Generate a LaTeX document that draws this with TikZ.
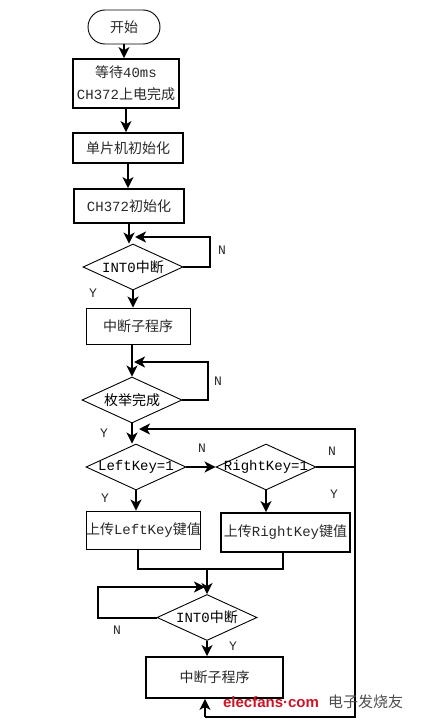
\documentclass[tikz,border=0pt]{standalone}
\usepackage{fontspec}
\setmainfont{Liberation Mono}
\newfontfamily\cjk{Noto Sans CJK SC}
\newfontfamily\wmfont{Liberation Sans}
\usetikzlibrary{shapes.geometric,arrows.meta}
\definecolor{wmred}{RGB}{200,22,40}
\definecolor{txt}{RGB}{40,40,40}

\begin{document}
\begin{tikzpicture}[x=1pt, y=-1pt, >={Stealth[length=11pt,width=11pt,inset=3pt]}, font=\fontsize{14}{22}\selectfont,
    proc/.style={draw, line width=1.8pt, inner sep=0pt, text=txt, align=center},
    thinproc/.style={proc, line width=0.9pt},
    decision/.style={diamond, draw, line width=0.9pt, inner sep=0pt, minimum width=100pt, minimum height=46pt},
    flow/.style={->, line width=2pt},
    yn/.style={text=txt, font=\fontsize{13}{13}\selectfont}]
\useasboundingbox (0,0) rectangle (422,728);

\node[draw, line width=0.9pt, rounded corners=17pt, minimum width=72pt, minimum height=34pt, text=txt] (start) at (124,27) {\cjk 开始};
\node[proc, minimum width=106pt, minimum height=49pt] (wait) at (126,83.5) {{\cjk 等待}40ms\\CH372{\cjk 上电完成}};
\node[proc, minimum width=110pt, minimum height=30pt] (mcuinit) at (128,148) {\cjk 单片机初始化};
\node[proc, minimum width=110pt, minimum height=34pt] (chinit) at (129,206) {CH372{\cjk 初始化}};
\node[decision, label={center:INT0{\cjk 中断}}] (int1) at (133,267) {};
\node[thinproc, minimum width=104pt, minimum height=36pt] (isr1) at (138,326) {\cjk 中断子程序};
\node[decision, label={center:{\cjk 枚举完成}}] (enum) at (132,400) {};
\node[decision, label={center:LeftKey=1}] (left) at (136,467) {};
\node[decision, label={center:RightKey=1}] (right) at (266,467) {};
\node[thinproc, minimum width=113pt, minimum height=38pt] (upleft) at (143.5,530) {{\cjk 上传}LeftKey{\cjk 键值}};
\node[proc, minimum width=129pt, minimum height=39pt] (upright) at (285.5,532.5) {{\cjk 上传}RightKey{\cjk 键值}};
\node[decision, label={center:INT0{\cjk 中断}}] (int2) at (207,617.5) {};
\node[proc, minimum width=137pt, minimum height=41pt] (isr2) at (214.5,677.5) {\cjk 中断子程序};

% main line
\draw[flow] (start.south) -- (start.south |- wait.north);
\draw[flow] (wait.south) -- (wait.south |- mcuinit.north);
\draw[flow] (mcuinit.south) -- (mcuinit.south |- chinit.north);
\draw[flow] (chinit.south) -- (chinit.south |- int1.north);
\draw[flow] (int1.south) -- (int1.south |- isr1.north);
\draw[flow] (isr1.south -| enum.north) -- (enum.north);
\draw[flow] (enum.south) -- (enum.south |- left.north);
\draw[flow] (left.east) -- (right.west);
\draw[flow] (left.south) -- (left.south |- upleft.north);
\draw[flow] (right.south) -- (right.south |- upright.north);

% waiting loops
\coordinate (n1) at (210,237);
\coordinate (j1) at (135,237);
\draw[flow] (int1.east) -| (n1) -- (j1);
\coordinate (n2) at (208,362);
\coordinate (j2) at (134,362);
\draw[flow] (enum.east) -| (n2) -- (j2);

% merge
\coordinate (m1) at (138,569);
\coordinate (m2) at (283,569);
\draw[line width=2pt] (upleft.south -| m1) -- (m1) -- (m2) -- (upright.south -| m2);
\draw[flow] (int2.north |- m1) -- (int2.north);
\coordinate (n3) at (98,587);
\coordinate (j3) at (205,587);
\draw[flow] (int2.west) -| (n3) -- (j3);
\draw[flow] (int2.south) -- (int2.south |- isr2.north);

% back to the key test
\coordinate (r0) at (205,717);
\coordinate (r1) at (355,717);
\coordinate (r2) at (355,429);
\coordinate (j4) at (139,429);
\draw[flow] (r0) -- (r0 |- isr2.south);
\draw[flow] (r0) -- (r1) -- (r2) -- (j4);
\draw[line width=2pt] (right.east) -- (right.east -| r2);

% labels
\node[yn] at (222,250) {N};
\node[yn] at (93,293) {Y};
\node[yn] at (218,381) {N};
\node[yn] at (104,433) {Y};
\node[yn] at (202,448) {N};
\node[yn] at (105,498) {Y};
\node[yn] at (332,451) {N};
\node[yn] at (334,494) {Y};
\node[yn] at (117,630) {N};
\node[yn] at (233,646) {Y};

% watermark
\node[text=wmred, font=\wmfont\bfseries\fontsize{15}{15}\selectfont] (wm) at (271,702) {elecfans·com};
\node[text=black!70, font=\cjk\fontsize{15}{15}\selectfont, right=2pt] (wmcn) at (wm.east) {电子发烧友};
\end{tikzpicture}
\end{document}
